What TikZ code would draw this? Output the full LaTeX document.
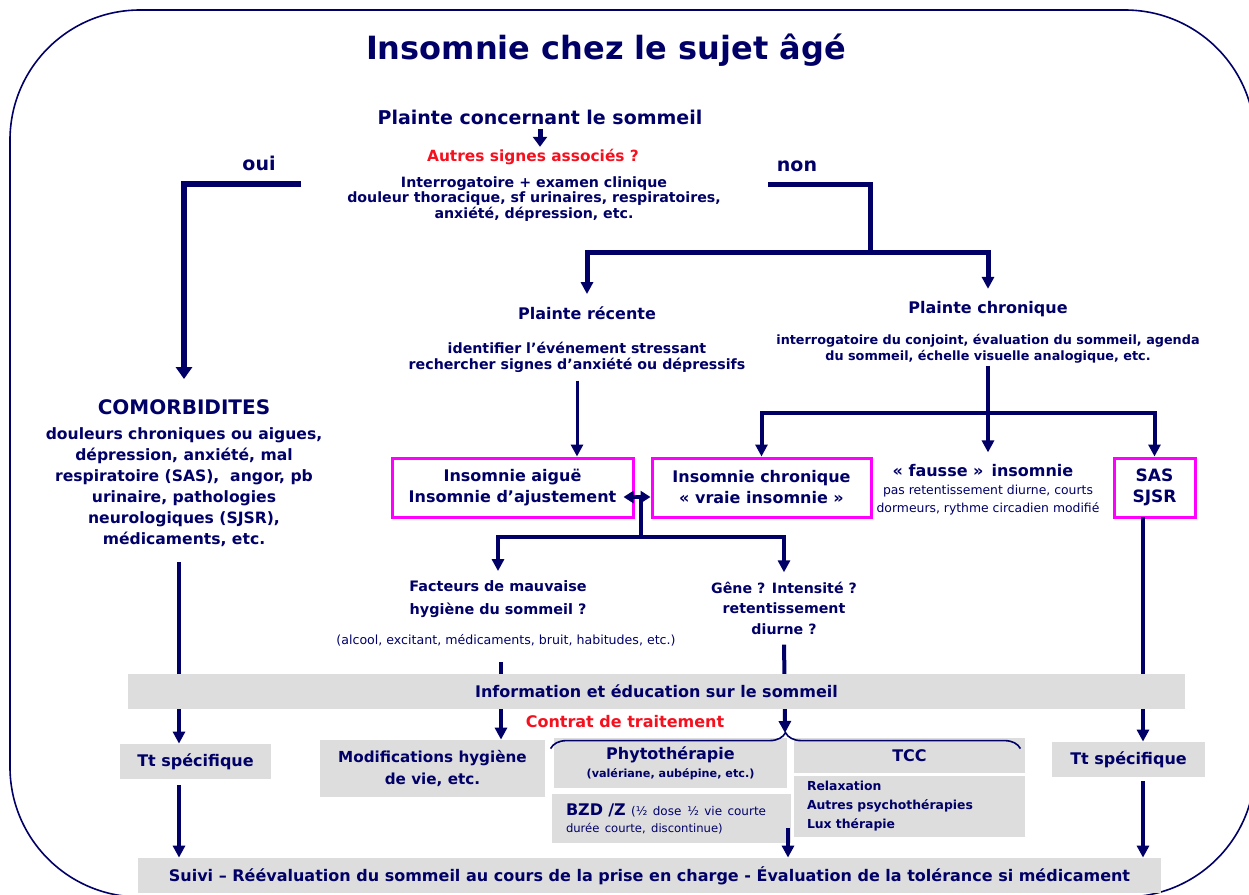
\documentclass[tikz,border=0pt]{standalone}
\usepackage{fontspec}
\setmainfont{DejaVu Sans}
\usetikzlibrary{arrows.meta,decorations.pathreplacing}
\definecolor{navy}{HTML}{000066}
\definecolor{signal}{HTML}{F5101E}
\definecolor{boxpink}{HTML}{FF00FF}
\definecolor{boxgray}{HTML}{DDDDDD}
\newcommand{\bfs}[2]{\bfseries\fontsize{#1}{#2}\selectfont}
\newcommand{\mds}[2]{\mdseries\fontsize{#1}{#2}\selectfont}
\tikzset{
  lbl/.style={text=navy, inner sep=1pt, align=center, font=\bfs{8}{10.5}},
  flow/.style={draw=navy, line width=2pt},
  link/.style={flow, -{Triangle[width=6pt,length=6pt]}},
  pinkbox/.style={lbl, draw=boxpink, line width=1.5pt, minimum height=29.5pt},
  graybox/.style={lbl, fill=boxgray, minimum height=17.5pt}
}
\begin{document}
\begin{tikzpicture}[x=0.5pt,y=-0.5pt]
\useasboundingbox (0,0) rectangle (1249,895);
\begin{scope}
\clip (0,0) rectangle (1249,895);
\draw[navy, line width=0.8pt, rounded corners=65pt] (10,10) rectangle (1255,897);
\end{scope}
\node[lbl, font=\bfs{16}{19}] (title) at (606,50) {Insomnie chez le sujet âgé};
\node[lbl, font=\bfs{9.5}{11}] (plainte) at (540,117) {Plainte concernant le sommeil};
\node[lbl, text=signal, font=\bfs{7.7}{9}] (autres) at (533,157) {Autres signes associés ?};
\node[lbl, font=\bfs{7.1}{7.75}] (interro) at (534,199)
  {Interrogatoire + examen clinique\\douleur thoracique, sf urinaires, respiratoires,\\anxiété, dépression, etc.};
\node[lbl, font=\bfs{9.5}{11}] (oui) at (259,163) {oui};
\node[lbl, font=\bfs{9.5}{11}] (non) at (797,166) {non};
\node[lbl] (recente) at (587,313) {Plainte récente};
\node[lbl, font=\bfs{7.1}{8}] (recinfo) at (577,357)
  {identifier l’événement stressant\\rechercher signes d’anxiété ou dépressifs};
\node[lbl] (chronique) at (988,309) {Plainte chronique};
\node[lbl, font=\bfs{6.4}{8}] (chrinfo) at (988,349)
  {interrogatoire du conjoint,\ évaluation du sommeil, agenda\\du sommeil,\ échelle visuelle analogique, etc.};
\node[lbl, font=\bfs{10}{12}] (comorb) at (184,407) {COMORBIDITES};
\node[lbl, font=\bfs{7.8}{10.5}] (comorbtxt) at (184,487)
  {douleurs chroniques ou aigues,\\dépression, anxiété, mal\\respiratoire (SAS),\ \ angor, pb\\urinaire, pathologies\\neurologiques (SJSR),\\médicaments, etc.};
\node[pinkbox, minimum width=120.5pt] (aigue) at (512.5,487.5) {Insomnie aiguë\\Insomnie d’ajustement};
\node[pinkbox, minimum width=109.5pt] (chron) at (761.5,487.5) {Insomnie chronique\\« vraie insomnie »};
\node[pinkbox, minimum width=40.5pt, font=\bfs{8.5}{10.5}] (sas) at (1154.5,487.5) {SAS\\SJSR};
\node[lbl] (fausse) at (983,471) {« fausse »\enspace insomnie};
\node[lbl, font=\mds{6.2}{9}] (faussetxt) at (988,500)
  {pas retentissement diurne, courts\\dormeurs, rythme circadien modifié};
\node[lbl, font=\bfs{7.2}{11.5}] (facteurs) at (498,599) {Facteurs de mauvaise\\hygiène du sommeil ?};
\node[lbl, font=\mds{6.3}{8}] (alcool) at (506,640) {(alcool, excitant, médicaments, bruit, habitudes, etc.)};
\node[lbl, font=\bfs{7.1}{10.25}] (gene) at (784,608) {Gêne ? Intensité ?\\retentissement\\diurne ?};
\node[lbl, text=signal] (contrat) at (625,722) {Contrat de traitement};
\node[graybox, minimum width=75.5pt] (tt1) at (195.5,761.5) {Tt spécifique};
\node[graybox, minimum width=112.5pt, minimum height=28.5pt, font=\bfs{7.6}{11}] (modif) at (432.5,768.5)
  {Modifications hygiène\\de vie, etc.};
\node[graybox, minimum width=116.5pt, minimum height=25pt, font=\bfs{8}{9}] (phyto) at (670.5,763)
  {Phytothérapie\\{\bfs{5.6}{9}(valériane, aubépine, etc.)}};
\node[graybox, minimum width=115.5pt] (tcc) at (909.5,755.5) {TCC};
\node[graybox, text width=102.5pt, inner xsep=6.5pt, align=left, minimum height=30.5pt,
  font=\bfs{6.2}{9.5}] (tcclist) at (909.5,806.5) {Relaxation\\Autres psychothérapies\\Lux thérapie};
\node[graybox, text width=105.5pt, inner xsep=7pt, align=left, minimum height=24.5pt,
  font=\bfs{8}{8.5}] (bzd) at (671.5,818.5)
  {BZD /Z {\mds{6}{8.5}(½ dose\enspace ½ vie courte}\\{\mds{5.8}{8.5}durée courte, discontinue)}};
\node[graybox, minimum width=76.5pt] (tt2) at (1128.5,759.5) {Tt spécifique};
\node[graybox, minimum width=511.5pt] (suivi) at (649.5,875.5)
  {Suivi – Réévaluation du sommeil au cours de la prise en charge - Évaluation de la tolérance si médicament};
\coordinate (ouiend) at (301,184);
\coordinate (nonend) at (768,184);
\coordinate (nonsplit) at (870,252);
\coordinate (chrsplit) at (988,413);
\coordinate (dbl) at (641,497);
\coordinate (hyg) at (641,537);
\coordinate (comorbout) at (179,562);
\coordinate (hygout) at (501,662);
\coordinate (brtip) at (785,733);
\coordinate (sasout) at (1143,517);
\coordinate (bzdout) at (788,828);
\draw[flow, line width=2.5pt, -{Triangle[width=7pt,length=5pt]}, shorten <=1pt] (plainte.south) -- (plainte.south |- autres.north);
\draw[flow, line width=2.75pt, -{Triangle[width=8pt,length=6pt]}, shorten >=9pt] (ouiend) -| (comorb.north);
\draw[flow, line width=2.5pt] (nonend) -| (nonsplit);
\draw[link, line width=2.5pt, shorten >=5pt] (nonsplit) -| (recente.north);
\draw[link, line width=2.5pt, shorten >=5pt] (nonsplit) -| (chronique.north);
\draw[link, line width=1.5pt, shorten <=3pt] (recinfo.south) -- (recinfo.south |- aigue.north);
\draw[flow] (chrinfo.south) -- (chrsplit);
\draw[link] (chrsplit) -| (chron.north);
\draw[link] (chrsplit) -| (sas.north);
\draw[link, shorten >=5pt] (chrsplit) -- (chrsplit |- fausse.north);
\draw[flow, {Triangle[width=6pt,length=5pt]}-{Triangle[width=6pt,length=5pt]}]
  ([xshift=-5.5pt,yshift=-4.75pt]aigue.east) -- ([yshift=-4.75pt]chron.west);
\draw[flow] (dbl) -- (hyg);
\draw[link, shorten >=3.5pt] (hyg) -| (facteurs.north);
\draw[link, shorten >=3.5pt] (hyg) -| (gene.north);
\draw[link] (comorbout) -- (comorbout |- tt1.north);
\draw[link, shorten <=3pt] (comorbout |- tt1.south) -- (comorbout |- suivi.north);
\draw[link] (hygout) -- (hygout |- modif.north);
\draw[link, shorten <=4pt] (gene.south) -- (brtip);
\draw[link] (sasout) -- (sasout |- tt2.north);
\draw[link, shorten <=2pt] (sasout |- tt2.south) -- (sasout |- suivi.north);
\draw[link] (bzdout) -- (bzdout |- suivi.north);
\draw[navy, line width=0.8pt, decorate, decoration={brace, amplitude=8pt}]
  ([shift={(-3,11)}]phyto.north west) -- ([shift={(-5,11)}]tcc.north east);
\node[graybox, minimum width=528.5pt] (info) at (656.5,691.5) {Information et éducation sur le sommeil};
\end{tikzpicture}
\end{document}
